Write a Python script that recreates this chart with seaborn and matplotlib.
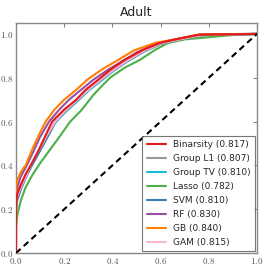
import matplotlib
matplotlib.use('Agg')
import matplotlib.pyplot as plt
import seaborn as sns

# ROC curves (fpr, tpr)
models = ['Binarsity', 'Group L1', 'Group TV', 'Lasso', 'SVM', 'RF', 'GB', 'GAM']
auc = [0.817, 0.807, 0.810, 0.782, 0.810, 0.830, 0.840, 0.815]
colors = ['#e41a1c', '#999999', '#17becf', '#4daf4a', '#377eb8', '#984ea3', '#ff7f00', '#f7b6d2']

fpr_binarsity = [0, 0, 0.005, 0.02, 0.04, 0.061, 0.09, 0.12, 0.15, 0.2, 0.25, 0.289, 0.34, 0.39, 0.452, 0.527, 0.6, 0.66, 0.76, 1.0]
tpr_binarsity = [0, 0.215, 0.27, 0.31, 0.36, 0.4, 0.46, 0.53, 0.6, 0.655, 0.7, 0.745, 0.79, 0.835, 0.882, 0.927, 0.96, 0.975, 0.997, 1.0]

fpr_group_l1 = [0, 0, 0.005, 0.02, 0.045, 0.07, 0.1, 0.13, 0.164, 0.21, 0.26, 0.3, 0.35, 0.4, 0.46, 0.53, 0.6, 0.68, 0.78, 1.0]
tpr_group_l1 = [0, 0.245, 0.27, 0.31, 0.36, 0.41, 0.47, 0.53, 0.6, 0.65, 0.7, 0.745, 0.785, 0.83, 0.875, 0.92, 0.955, 0.975, 0.995, 1.0]

fpr_group_tv = [0, 0, 0.005, 0.02, 0.045, 0.07, 0.1, 0.13, 0.16, 0.2, 0.25, 0.3, 0.35, 0.4, 0.46, 0.53, 0.6, 0.68, 0.78, 1.0]
tpr_group_tv = [0, 0.2, 0.25, 0.3, 0.36, 0.41, 0.47, 0.53, 0.59, 0.64, 0.69, 0.74, 0.785, 0.83, 0.875, 0.92, 0.955, 0.975, 0.996, 1.0]

fpr_lasso = [0, 0, 0.005, 0.02, 0.04, 0.07, 0.1, 0.14, 0.18, 0.225, 0.27, 0.32, 0.35, 0.39, 0.45, 0.515, 0.577, 0.63, 0.7, 0.8, 0.9, 1.0]
tpr_lasso = [0, 0.12, 0.17, 0.24, 0.3, 0.36, 0.41, 0.47, 0.53, 0.6, 0.65, 0.72, 0.755, 0.8, 0.845, 0.882, 0.927, 0.958, 0.975, 0.985, 0.995, 1.0]

fpr_svm = [0, 0, 0.005, 0.02, 0.045, 0.07, 0.1, 0.13, 0.158, 0.2, 0.25, 0.3, 0.35, 0.4, 0.46, 0.53, 0.6, 0.68, 0.78, 1.0]
tpr_svm = [0, 0.2, 0.24, 0.29, 0.355, 0.41, 0.47, 0.53, 0.59, 0.645, 0.695, 0.745, 0.79, 0.83, 0.875, 0.92, 0.955, 0.975, 0.996, 1.0]

fpr_rf = [0, 0, 0.005, 0.02, 0.045, 0.075, 0.1, 0.137, 0.18, 0.22, 0.27, 0.32, 0.38, 0.44, 0.5, 0.58, 0.66, 0.76, 1.0]
tpr_rf = [0, 0.27, 0.3, 0.35, 0.4, 0.47, 0.53, 0.6, 0.655, 0.7, 0.745, 0.79, 0.835, 0.875, 0.915, 0.955, 0.975, 0.996, 1.0]

fpr_gb = [0, 0, 0.005, 0.02, 0.04, 0.07, 0.1, 0.123, 0.16, 0.2, 0.255, 0.3, 0.36, 0.425, 0.49, 0.58, 0.66, 0.76, 1.0]
tpr_gb = [0, 0.3, 0.33, 0.37, 0.4, 0.48, 0.55, 0.6, 0.655, 0.7, 0.75, 0.795, 0.84, 0.882, 0.925, 0.96, 0.975, 0.997, 1.0]

fpr_gam = [0, 0, 0.005, 0.02, 0.045, 0.07, 0.1, 0.13, 0.16, 0.2, 0.25, 0.3, 0.35, 0.4, 0.46, 0.53, 0.6, 0.68, 0.78, 1.0]
tpr_gam = [0, 0.22, 0.26, 0.3, 0.36, 0.42, 0.48, 0.54, 0.595, 0.645, 0.695, 0.745, 0.79, 0.832, 0.877, 0.922, 0.956, 0.975, 0.996, 1.0]

fprs = [fpr_binarsity, fpr_group_l1, fpr_group_tv, fpr_lasso, fpr_svm, fpr_rf, fpr_gb, fpr_gam]
tprs = [tpr_binarsity, tpr_group_l1, tpr_group_tv, tpr_lasso, tpr_svm, tpr_rf, tpr_gb, tpr_gam]
zorders = [10, 3, 4, 5, 6, 8, 9, 7]
widths = [1.5, 2.0, 1.5, 1.5, 1.5, 1.5, 1.5, 1.5]

sns.set_style('white')
plt.rcParams['mathtext.fontset'] = 'cm'

fig = plt.figure(figsize=(2.66, 2.67), dpi=100)
ax = fig.add_axes([0.06, 0.052, 0.906, 0.862])

for name, a, c, f, t, z, w in zip(models, auc, colors, fprs, tprs, zorders, widths):
    sns.lineplot(x=f, y=t, ax=ax, color=c, linewidth=w, sort=False, estimator=None,
                 label=f'{name} ({a:.3f})', zorder=z)

ax.plot([0, 1], [0, 1], color='black', linestyle='--', linewidth=1.5, dashes=(3, 2), zorder=11)

ax.set_xlim(0, 1)
ax.set_ylim(0, 1.05)
ticks = [0.0, 0.2, 0.4, 0.6, 0.8, 1.0]
ax.set_xticks(ticks)
ax.set_yticks(ticks)
ax.set_xticklabels([f'${v:.1f}$' for v in ticks])
ax.set_yticklabels([f'${v:.1f}$' for v in ticks])
ax.tick_params(direction='in', length=3, width=0.8, color='#888888', labelcolor='#555555',
               labelsize=6.5, top=True, right=True, pad=2)
for s in ax.spines.values():
    s.set_color('#888888')
    s.set_linewidth(1.0)

ax.set_title('Adult', fontsize=9, pad=5)

leg = ax.legend(loc='lower right', fontsize=6.5, frameon=True, fancybox=False,
                handlelength=2.1, borderpad=0.5, labelspacing=0.55, borderaxespad=0.2)
leg.get_frame().set_edgecolor('#555555')
leg.get_frame().set_linewidth(0.8)
for line in leg.get_lines():
    line.set_linewidth(1.5)
leg.set_zorder(20)

fig.savefig('out.png', dpi=100)
